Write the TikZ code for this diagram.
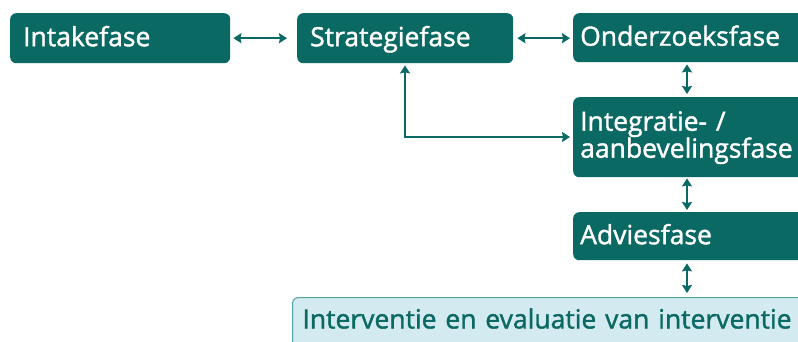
\documentclass[tikz,border=0pt]{standalone}
\usepackage{fontspec}
\setmainfont{Open Sans}[FakeBold = 1.4]
\usetikzlibrary{arrows.meta}
\definecolor{fasegroen}{HTML}{0B6964}
\definecolor{faselicht}{HTML}{D3EAF0}
\definecolor{faserand}{HTML}{4FA7A8}

\begin{document}
\begin{tikzpicture}[x = 1pt, y = -1pt,
        fase/.style = {rounded corners = 6pt, fill = fasegroen, text = white, anchor = north west,
                       minimum width = #1, text width = #1 - 14pt, inner xsep = 7pt, inner ysep = 0pt,
                       text height = 22pt, text depth = 6pt,
                       align = left, font = \fontsize{26.5}{27}\selectfont},
        pijl/.style = {draw = fasegroen, line width = 2.2pt, {Stealth[length = 8pt, width = 10pt, inset = 1pt]}-{Stealth[length = 8pt, width = 10pt, inset = 1pt]}}]
    \useasboundingbox (0, 0) rectangle (798, 342);
    \clip (0, 0) rectangle (798, 342);
    \path (10, 13)  node[fase = 220pt, minimum height = 50pt, inner xsep = 13pt, text width = 194pt] (intake) {Intakefase}
          (297, 13) node[fase = 216pt, minimum height = 50pt, inner xsep = 13pt, text width = 190pt] (strategie) {Strategiefase}
          (573, 13) node[fase = 240pt, minimum height = 49pt] (onderzoek) {Onderzoeksfase}
          (573, 97) node[fase = 240pt, minimum height = 80pt, text depth = 35pt] (integratie) {Integratie- /\\aanbevelingsfase}
          (573, 212) node[fase = 240pt, minimum height = 48pt] (advies) {Adviesfase}
          (292, 297) node[fase = 520pt, minimum height = 52pt, text depth = 12pt, inner xsep = 9pt, text width = 500pt,
                          fill = faselicht, draw = faserand, line width = 1pt, text = fasegroen] (interventie) {Interventie en evaluatie van interventie};
    \coordinate (hoek) at (405, 137);
    \draw[pijl] ([xshift = 3pt] intake.east) -- ([xshift = -10pt] intake.east -| strategie.west);
    \draw[pijl] ([xshift = 4pt] strategie.east) -- ([xshift = -3pt] strategie.east -| onderzoek.west);
    \draw[pijl] ([yshift = -2pt] onderzoek.south -| 687, 0) -- ([yshift = 3pt] integratie.north -| 687, 0);
    \draw[pijl] ([yshift = -1pt] integratie.south -| 687, 0) -- ([yshift = 2pt] advies.north -| 687, 0);
    \draw[pijl] ([yshift = -3pt] advies.south -| 687, 0) -- ([yshift = 4pt] interventie.north -| 687, 0);
    \draw[pijl] ([yshift = -2pt] strategie.south -| hoek) -- (hoek) -- ([xshift = -3pt] hoek -| integratie.west);
\end{tikzpicture}
\end{document}
